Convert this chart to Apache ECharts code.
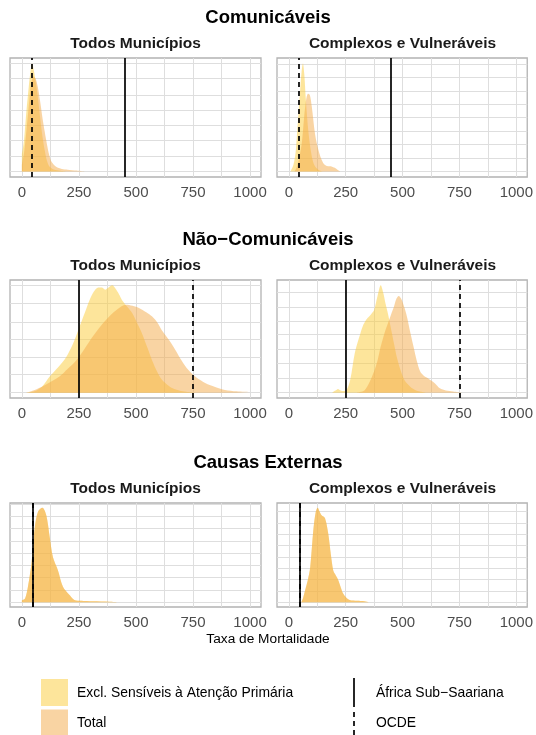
<!DOCTYPE html>
<html>
<head>
<meta charset="utf-8">
<script src="https://cdn.jsdelivr.net/npm/echarts@6/dist/echarts.min.js"></script>
<style>
html,body{margin:0;padding:0;background:#fff;}
#chart{width:536px;height:735px;}
</style>
</head>
<body>
<div id="chart"></div>
<script>
// ---------- tick labels / categories ----------
const xTicks = [0, 250, 500, 750, 1000];
const xGridValues = [0, 125, 250, 375, 500, 625, 750, 875, 1000];
const rowTitles = ['Comunicáveis', 'Não−Comunicáveis', 'Causas Externas'];
const colTitles = ['Todos Municípios', 'Complexos e Vulneráveis'];
const fillNames = ['Excl. Sensíveis à Atenção Primária', 'Total'];
const lineNames = ['África Sub−Saariana', 'OCDE'];
const axisTitle = 'Taxa de Mortalidade';

// reference lines per row
const africaX = [450, 250, 46];
const ocdeX = [45, 750, 48];

// ---------- densities (normalised to panel max) ----------
// Comunicáveis - Todos Municípios
const comTodosExclX = [0, 5, 10, 20, 30, 38, 45, 52, 60, 70, 80, 90, 100, 110, 120, 140, 170, 200];
const comTodosExclY = [0.16, 0.22, 0.3, 0.56, 0.78, 0.93, 1.0, 0.94, 0.84, 0.69, 0.5, 0.33, 0.2, 0.1, 0.05, 0.02, 0.008, 0];
const comTodosTotX = [0, 10, 20, 30, 40, 50, 60, 70, 80, 90, 100, 110, 120, 130, 150, 175, 200, 240, 280];
const comTodosTotY = [0.06, 0.18, 0.38, 0.6, 0.8, 0.88, 0.86, 0.78, 0.65, 0.5, 0.37, 0.25, 0.15, 0.09, 0.045, 0.025, 0.018, 0.01, 0];
// Comunicáveis - Complexos e Vulneráveis
const comCompExclX = [7, 20, 30, 36, 43, 50, 56, 62, 68, 75, 87, 101, 112, 122, 135, 150];
const comCompExclY = [0, 0.06, 0.18, 0.35, 0.55, 0.76, 0.92, 1.0, 0.9, 0.66, 0.35, 0.14, 0.06, 0.03, 0.01, 0];
const comCompTotX = [25, 35, 45, 58, 72, 84, 92, 101, 115, 130, 151, 173, 185, 195, 202, 215, 228];
const comCompTotY = [0, 0.04, 0.12, 0.28, 0.6, 0.72, 0.71, 0.6, 0.35, 0.2, 0.08, 0.05, 0.05, 0.04, 0.035, 0.015, 0];
// Não-Comunicáveis - Todos Municípios
const ncTodosExclX = [20, 40, 64, 90, 122, 160, 194, 225, 252, 275, 296, 315, 335, 350, 365, 380, 396, 410, 425, 440, 462, 484, 505, 527, 550, 571, 592, 614, 640, 661, 690, 720, 760];
const ncTodosExclY = [0, 0.005, 0.02, 0.06, 0.15, 0.24, 0.33, 0.46, 0.61, 0.74, 0.86, 0.94, 0.98, 0.98, 0.96, 0.98, 1.0, 0.97, 0.92, 0.86, 0.8, 0.74, 0.65, 0.55, 0.42, 0.3, 0.2, 0.12, 0.07, 0.04, 0.02, 0.008, 0];
const ncTodosTotX = [20, 50, 100, 165, 200, 238, 275, 310, 345, 383, 420, 455, 485, 513, 545, 571, 595, 614, 645, 672, 700, 730, 765, 803, 850, 890, 940, 1000];
const ncTodosTotY = [0, 0.02, 0.07, 0.15, 0.22, 0.3, 0.41, 0.52, 0.62, 0.71, 0.78, 0.82, 0.81, 0.79, 0.75, 0.71, 0.65, 0.58, 0.49, 0.4, 0.3, 0.21, 0.14, 0.09, 0.05, 0.025, 0.012, 0.005];
// Não-Comunicáveis - Complexos e Vulneráveis
const ncCompExclX = [190, 205, 216, 228, 240, 255, 270, 290, 310, 325, 340, 353, 365, 375, 390, 404, 415, 425, 433, 447, 462, 476, 491, 510, 534, 555, 577, 600];
const ncCompExclY = [0, 0.02, 0.035, 0.02, 0.015, 0.03, 0.12, 0.37, 0.52, 0.62, 0.68, 0.71, 0.74, 0.77, 0.9, 1.0, 0.93, 0.83, 0.76, 0.62, 0.46, 0.32, 0.21, 0.11, 0.055, 0.025, 0.01, 0];
const ncCompTotX = [300, 332, 355, 375, 390, 404, 420, 433, 448, 462, 472, 483, 495, 507, 519, 533, 548, 562, 577, 592, 606, 620, 635, 650, 664, 690, 722, 760];
const ncCompTotY = [0, 0.02, 0.1, 0.2, 0.3, 0.43, 0.55, 0.63, 0.72, 0.8, 0.87, 0.9, 0.87, 0.8, 0.71, 0.57, 0.43, 0.3, 0.2, 0.16, 0.14, 0.12, 0.1, 0.07, 0.04, 0.02, 0.01, 0];
// Causas Externas - Todos Municípios (both curves coincide)
const extTodosExclX = [0, 14, 27, 42, 57, 71, 90, 107, 122, 136, 158, 180, 209, 230, 260, 310, 383, 420];
const extTodosExclY = [0.02, 0.04, 0.17, 0.41, 0.8, 0.96, 1.0, 0.92, 0.69, 0.48, 0.34, 0.165, 0.077, 0.024, 0.015, 0.01, 0.005, 0];
const extTodosTotX = [0, 14, 27, 42, 57, 71, 90, 107, 122, 136, 158, 180, 209, 230, 260, 310, 383, 420];
const extTodosTotY = [0.02, 0.04, 0.17, 0.41, 0.8, 0.96, 1.0, 0.92, 0.69, 0.48, 0.34, 0.165, 0.077, 0.024, 0.015, 0.01, 0.005, 0];
// Causas Externas - Complexos e Vulneráveis (both curves coincide)
const extCompExclX = [55, 62, 72, 84, 94, 108, 118, 127, 135, 144, 159, 173, 185, 195, 205, 216, 228, 238, 252, 267, 300, 332, 350];
const extCompExclY = [0, 0.04, 0.13, 0.24, 0.37, 0.77, 0.95, 1.0, 0.96, 0.92, 0.89, 0.73, 0.5, 0.34, 0.29, 0.24, 0.16, 0.095, 0.05, 0.024, 0.015, 0.01, 0];
const extCompTotX = [55, 62, 72, 84, 94, 108, 118, 127, 135, 144, 159, 173, 185, 195, 205, 216, 228, 238, 252, 267, 300, 332, 350];
const extCompTotY = [0, 0.04, 0.13, 0.24, 0.37, 0.77, 0.95, 1.0, 0.96, 0.92, 0.89, 0.73, 0.5, 0.34, 0.29, 0.24, 0.16, 0.095, 0.05, 0.024, 0.015, 0.01, 0];

// y gridline spacing per panel (density units, normalised)
const yGridStep = [0.143, 0.124, 0.166, 0.134, 0.130, 0.120];

// ---------- layout / style ----------
const FONT = 'Liberation Sans, Arial, Helvetica, sans-serif';
const colLeft = [10, 277];
const panelW = 251;
const rowTop = [58, 280, 503];
const rowH = [119, 118, 104];
const exclColor = 'rgba(251,203,55,0.5)';
const totColor = 'rgba(243,169,71,0.5)';
const gridColor = '#DEDEDE';
const borderColor = '#B3B3B3';

const panelData = [
  [comTodosExclX, comTodosExclY, comTodosTotX, comTodosTotY],
  [comCompExclX, comCompExclY, comCompTotX, comCompTotY],
  [ncTodosExclX, ncTodosExclY, ncTodosTotX, ncTodosTotY],
  [ncCompExclX, ncCompExclY, ncCompTotX, ncCompTotY],
  [extTodosExclX, extTodosExclY, extTodosTotX, extTodosTotY],
  [extCompExclX, extCompExclY, extCompTotX, extCompTotY]
];

const zip = (xs, ys) => xs.map((x, i) => [x, ys[i]]);

const grids = [], xAxes = [], yAxes = [], series = [], graphics = [];

panelData.forEach((pd, i) => {
  const row = Math.floor(i / 2), col = i % 2;
  grids.push({
    left: colLeft[col], top: rowTop[row], width: panelW, height: rowH[row],
    show: true, borderColor: borderColor, borderWidth: 1.3, backgroundColor: '#fff'
  });
  xAxes.push({
    type: 'value', gridIndex: i, min: -52, max: 1048,
    splitLine: { show: false },
    axisLine: { show: false },
    axisTick: { show: true, customValues: xTicks, length: 3, lineStyle: { color: borderColor, width: 1 } },
    axisLabel: { customValues: xTicks, formatter: v => String(v), fontSize: 15, color: '#4D4D4D', margin: 8, fontFamily: 'Liberation Sans', hideOverlap: false }
  });
  yAxes.push({ type: 'value', gridIndex: i, min: -0.05, max: 1.05, show: false });

  const yLines = [];
  for (let k = 0; k * yGridStep[i] <= 1.05; k++) yLines.push(+(k * yGridStep[i]).toFixed(4));

  series.push({
    type: 'line', xAxisIndex: i, yAxisIndex: i, data: [], silent: true, animation: false,
    markLine: {
      silent: true, z: 1, symbol: ['none', 'none'], animation: false,
      label: { show: false },
      lineStyle: { color: gridColor, width: 1, type: 'solid' },
      emphasis: { disabled: true },
      data: xGridValues.map(v => ({ xAxis: v })).concat(yLines.map(v => ({ yAxis: v })))
    }
  });
  series.push({
    name: fillNames[0], type: 'line', xAxisIndex: i, yAxisIndex: i, z: 2,
    data: zip(pd[0], pd[1]), smooth: 0.3, showSymbol: false, symbol: 'none',
    lineStyle: { width: 0, opacity: 0 }, areaStyle: { color: exclColor, opacity: 1 },
    animation: false, silent: true
  });
  series.push({
    name: fillNames[1], type: 'line', xAxisIndex: i, yAxisIndex: i, z: 3,
    data: zip(pd[2], pd[3]), smooth: 0.3, showSymbol: false, symbol: 'none',
    lineStyle: { width: 0, opacity: 0 }, areaStyle: { color: totColor, opacity: 1 },
    animation: false, silent: true
  });
  series.push({
    type: 'line', xAxisIndex: i, yAxisIndex: i, data: [], silent: true, animation: false,
    markLine: {
      silent: true, z: 6, symbol: ['none', 'none'], animation: false,
      label: { show: false },
      emphasis: { disabled: true },
      data: [
        { xAxis: ocdeX[row], lineStyle: { color: '#000', width: 1.7, type: [5, 4] } },
        { xAxis: africaX[row], lineStyle: { color: '#000', width: 1.7, type: 'solid' } }
      ]
    }
  });
});

// titles
rowTitles.forEach((t, r) => {
  graphics.push({ type: 'text', x: 268, y: rowTop[r] - 40.5,
    style: { text: t, fill: '#000', font: 'bold 18.5px ' + FONT, align: 'center', verticalAlign: 'middle' } });
  colTitles.forEach((c, cc) => {
    graphics.push({ type: 'text', x: colLeft[cc] + panelW / 2, y: rowTop[r] - 14,
      style: { text: c, fill: '#1A1A1A', font: 'bold 15.5px ' + FONT, align: 'center', verticalAlign: 'middle' } });
  });
});
graphics.push({ type: 'text', x: 268, y: 639,
  style: { text: axisTitle, fill: '#000', font: '13.7px ' + FONT, align: 'center', verticalAlign: 'middle' } });

// legend
graphics.push({ type: 'rect', shape: { x: 41, y: 679, width: 27, height: 27 }, style: { fill: exclColor } });
graphics.push({ type: 'rect', shape: { x: 41, y: 709.5, width: 27, height: 27 }, style: { fill: totColor } });
graphics.push({ type: 'text', x: 77, y: 693, style: { text: fillNames[0], fill: '#000', font: '13.9px ' + FONT, verticalAlign: 'middle' } });
graphics.push({ type: 'text', x: 77, y: 723, style: { text: fillNames[1], fill: '#000', font: '13.9px ' + FONT, verticalAlign: 'middle' } });
graphics.push({ type: 'line', shape: { x1: 354, y1: 678, x2: 354, y2: 707 }, style: { stroke: '#000', lineWidth: 1.7 } });
graphics.push({ type: 'line', shape: { x1: 354, y1: 710, x2: 354, y2: 740 }, style: { stroke: '#000', lineWidth: 1.7, lineDash: [5, 4], lineDashOffset: -2 } });
graphics.push({ type: 'text', x: 376, y: 693, style: { text: lineNames[0], fill: '#000', font: '13.9px ' + FONT, verticalAlign: 'middle' } });
graphics.push({ type: 'text', x: 376, y: 723, style: { text: lineNames[1], fill: '#000', font: '13.9px ' + FONT, verticalAlign: 'middle' } });

const chart = echarts.init(document.getElementById('chart'), null, { renderer: 'canvas' });
chart.setOption({
  animation: false,
  backgroundColor: '#fff',
  textStyle: { fontFamily: FONT },
  grid: grids, xAxis: xAxes, yAxis: yAxes, series: series, graphic: graphics
});
</script>
</body>
</html>
